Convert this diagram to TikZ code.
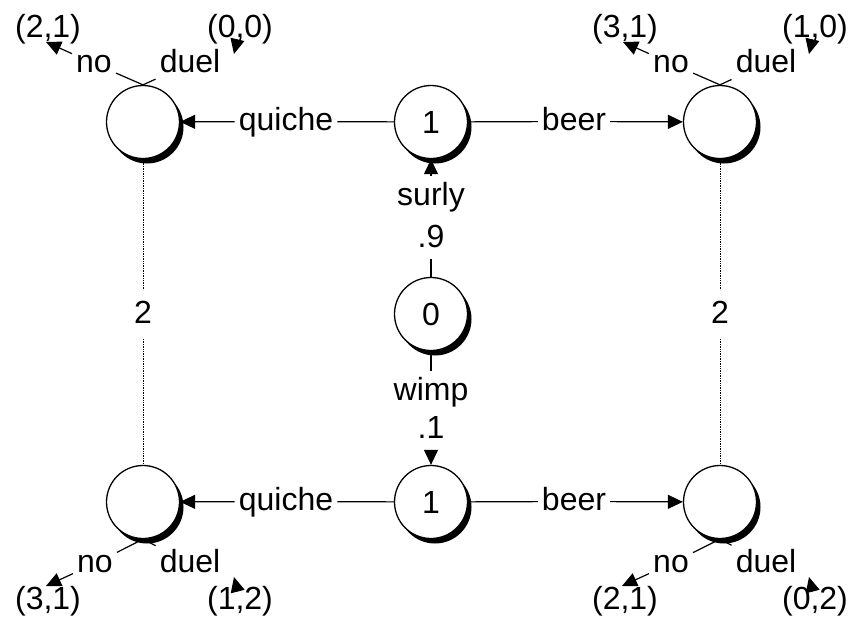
\documentclass[tikz,border=0pt]{standalone}
\usepackage{fontspec}
\setmainfont{Liberation Sans}
\usetikzlibrary{arrows.meta,shadows}
\begin{document}
\begin{tikzpicture}[x=1pt,y=-1pt,
  font=\fontsize{32}{38}\selectfont,
  move/.style={circle,draw,line width=1.3pt,fill=white,minimum size=73pt,inner sep=0pt,
    drop shadow={shadow xshift=4pt,shadow yshift=-5pt,opacity=1,fill=black}},
  lbl/.style={inner sep=4pt,text height=25pt,text depth=7.5pt},
  pay/.style={inner sep=1pt,text height=25pt,text depth=7.5pt},
  conn/.style={line width=1.2pt},
  arr/.style={conn,-{Triangle[length=15pt,width=14pt]}},
  infoset/.style={line width=0.7pt,densely dotted}]
\useasboundingbox (0,0) rectangle (852,624);

% decision nodes
\node[move] (root) at (431,314) {0};
\node[move] (s1) at (431,122) {1};
\node[move] (w1) at (431,502) {1};
\node[move] (sq) at (143,122) {};
\node[move] (sb) at (720,122) {};
\node[move] (wq) at (143,502) {};
\node[move] (wb) at (720,502) {};

% chance move
\node[lbl] (surly) at (431,196.5) {surly};
\node[lbl] (ps) at (431,238.5) {.9};
\node[lbl] (wimp) at (431,391.5) {wimp};
\node[lbl] (pw) at (431,429.5) {.1};
\draw[conn] (root) -- (ps);
\draw[arr] (surly) -- (s1);
\draw[conn] (root) -- (wimp);
\draw[arr] (pw) -- (w1);

% signals
\node[lbl] (sql) at (286,121.5) {quiche};
\node[lbl] (sbl) at (574,121.5) {beer};
\node[lbl] (wql) at (286,501.5) {quiche};
\node[lbl] (wbl) at (574,501.5) {beer};
\draw[conn] (s1) -- (sql);
\draw[arr] (sql) -- (sq);
\draw[conn] (s1) -- (sbl);
\draw[arr] (sbl) -- (sb);
\draw[conn] (w1) -- (wql);
\draw[arr] (wql) -- (wq);
\draw[conn] (w1) -- (wbl);
\draw[arr] (wbl) -- (wb);

% information sets of player 2
\node[lbl,inner sep=8pt] (lq) at (143,314.5) {2};
\node[lbl,inner sep=8pt] (lb) at (720,314.5) {2};
\draw[infoset] (sq) -- (lq);
\draw[infoset] (lq) -- (wq);
\draw[infoset] (sb) -- (lb);
\draw[infoset] (lb) -- (wb);

% responses after surly/quiche
\node[lbl] (sqno) at (94,63.5) {no};
\node[lbl] (sqduel) at (190,63.5) {duel};
\node[pay] (sqnop) at (48,28.5) {(2,1)};
\node[pay] (sqduelp) at (240,28.5) {(0,0)};
\coordinate (sqnot) at (46,42);
\coordinate (sqduelt) at (234,54);
\draw[conn] (sq.north) -- (sqno);
\draw[conn] (sq.north) -- (sqduel);
\draw[arr] (sqno) -- (sqnot);
\draw[arr] (sqduelp) -- (sqduelt);

% responses after surly/beer
\node[lbl] (sbno) at (671,63.5) {no};
\node[lbl] (sbduel) at (766,63.5) {duel};
\node[pay] (sbnop) at (625,28.5) {(3,1)};
\node[pay] (sbduelp) at (815,28.5) {(1,0)};
\coordinate (sbnot) at (623,42);
\coordinate (sbduelt) at (809,54);
\draw[conn] (sb.north) -- (sbno);
\draw[conn] (sb.north) -- (sbduel);
\draw[arr] (sbno) -- (sbnot);
\draw[arr] (sbduelp) -- (sbduelt);

% responses after wimp/quiche
\node[lbl] (wqno) at (95,563.5) {no};
\node[lbl] (wqduel) at (190,563.5) {duel};
\node[pay] (wqnop) at (48,600.5) {(3,1)};
\node[pay] (wqduelp) at (240,600.5) {(1,2)};
\coordinate (wqnot) at (46,586);
\coordinate (wqduelt) at (234,577);
\draw[conn] (wq.south) -- (wqno);
\draw[conn] (wq.south) -- (wqduel);
\draw[arr] (wqno) -- (wqnot);
\draw[arr] (wqduelp) -- (wqduelt);

% responses after wimp/beer
\node[lbl] (wbno) at (671,563.5) {no};
\node[lbl] (wbduel) at (766,563.5) {duel};
\node[pay] (wbnop) at (625,600.5) {(2,1)};
\node[pay] (wbduelp) at (815,600.5) {(0,2)};
\coordinate (wbnot) at (622,586);
\coordinate (wbduelt) at (809,577);
\draw[conn] (wb.south) -- (wbno);
\draw[conn] (wb.south) -- (wbduel);
\draw[arr] (wbno) -- (wbnot);
\draw[arr] (wbduelp) -- (wbduelt);
\end{tikzpicture}
\end{document}
